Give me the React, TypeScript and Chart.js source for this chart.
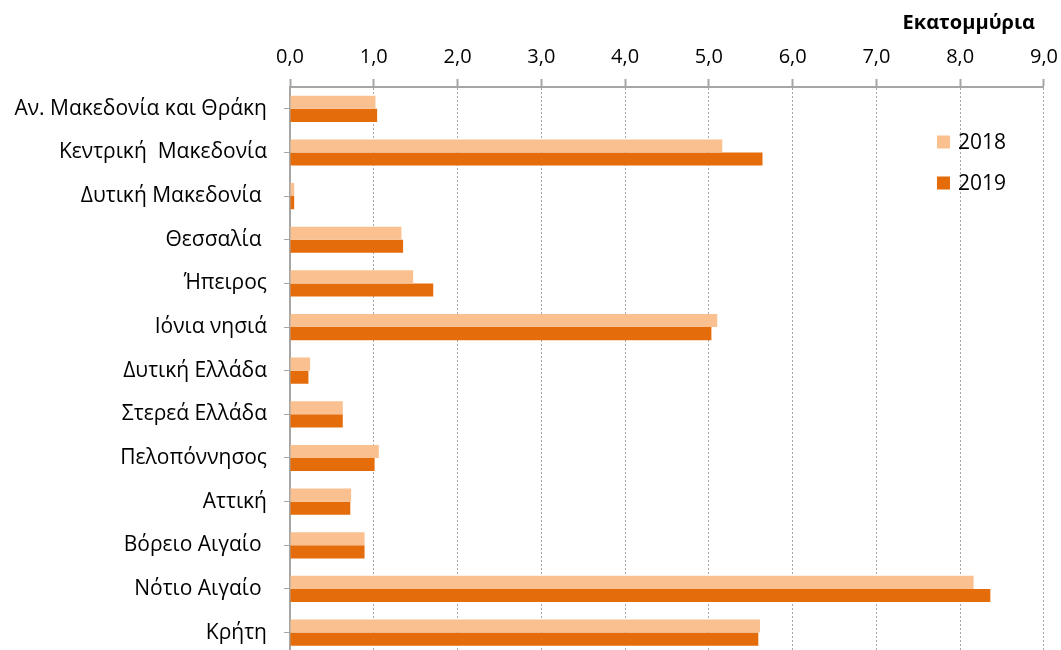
import React, { useEffect, useRef } from 'react';
import { Chart, registerables } from 'chart.js';

Chart.register(...registerables);

const FONT = '"Open Sans", "Noto Sans", sans-serif';

const categories = [
  'Αν. Μακεδονία και Θράκη',
  'Κεντρική  Μακεδονία',
  'Δυτική Μακεδονία ',
  'Θεσσαλία ',
  'Ήπειρος',
  'Ιόνια νησιά',
  'Δυτική Ελλάδα',
  'Στερεά Ελλάδα',
  'Πελοπόννησος',
  'Αττική',
  'Βόρειο Αιγαίο ',
  'Νότιο Αιγαίο ',
  'Κρήτη',
];

const values2018 = [1.02, 5.16, 0.05, 1.33, 1.47, 5.1, 0.24, 0.63, 1.06, 0.73, 0.89, 8.16, 5.61];
const values2019 = [1.04, 5.64, 0.05, 1.35, 1.71, 5.03, 0.22, 0.63, 1.01, 0.72, 0.89, 8.36, 5.59];

const seriesLabels = ['2018', '2019'];
const unitTitle = 'Εκατομμύρια';
const xMin = 0;
const xMax = 9;
const xStep = 1;

const COLOR_2018 = '#FAC090';
const COLOR_2019 = '#E46C0A';
const AXIS_GRAY = '#A6A6A6';

const overlayPlugin = {
  id: 'overlayLegendTitle',
  afterDraw(chart: any) {
    const { ctx, chartArea } = chart;
    ctx.save();
    chart.data.datasets.forEach((ds: any, i: number) => {
      const x = chartArea.right - 107;
      const y = 142 + i * 41;
      ctx.fillStyle = ds.backgroundColor;
      ctx.fillRect(x, y - 6.5, 13, 13);
      ctx.fillStyle = '#000';
      ctx.font = `21px ${FONT}`;
      ctx.textAlign = 'left';
      ctx.textBaseline = 'middle';
      ctx.fillText(ds.label, x + 21, y + 1);
    });
    ctx.font = `bold 20px ${FONT}`;
    ctx.textAlign = 'right';
    ctx.textBaseline = 'middle';
    ctx.fillStyle = '#000';
    ctx.fillText(unitTitle, chartArea.right - 9, 23);
    ctx.restore();
  },
};

export default function App() {
  const canvasRef = useRef<HTMLCanvasElement | null>(null);

  useEffect(() => {
    if (!canvasRef.current) return;
    const chart = new Chart(canvasRef.current, {
      type: 'bar',
      data: {
        labels: categories,
        datasets: [
          {
            label: seriesLabels[0],
            data: values2018,
            backgroundColor: COLOR_2018,
            borderWidth: 0,
            barPercentage: 1,
            categoryPercentage: 0.6,
          },
          {
            label: seriesLabels[1],
            data: values2019,
            backgroundColor: COLOR_2019,
            borderWidth: 0,
            barPercentage: 1,
            categoryPercentage: 0.6,
          },
        ],
      },
      options: {
        indexAxis: 'y',
        responsive: false,
        animation: false,
        layout: { padding: { top: 0, right: 0, bottom: 0, left: 0 } },
        plugins: {
          legend: { display: false },
          title: { display: false },
          tooltip: { enabled: false },
        },
        scales: {
          x: {
            position: 'top',
            min: xMin,
            max: xMax,
            ticks: {
              stepSize: xStep,
              color: '#000',
              font: { family: FONT, size: 20 },
              padding: 10,
              callback: (v: any) => Number(v).toFixed(1).replace('.', ','),
            },
            grid: {
              color: AXIS_GRAY,
              lineWidth: 1,
              tickLength: 8,
              tickColor: AXIS_GRAY,
              tickWidth: 2,
            },
            border: { display: true, color: AXIS_GRAY, width: 2, dash: [2, 2] },
            afterFit: (scale: any) => {
              scale.height = 87;
            },
          },
          y: {
            type: 'category',
            offset: true,
            ticks: {
              color: '#000',
              font: { family: FONT, size: 21 },
              padding: 17,
              autoSkip: false,
            },
            grid: {
              display: true,
              drawOnChartArea: false,
              offset: false,
              tickLength: 6,
              tickColor: AXIS_GRAY,
              tickWidth: 1,
            },
            border: { display: true, color: AXIS_GRAY, width: 2 },
            afterFit: (scale: any) => {
              scale.width = 290;
            },
          },
        },
      },
      plugins: [overlayPlugin],
    } as any);
    return () => chart.destroy();
  }, []);

  return (
    <div style={{ position: 'fixed', left: 0, top: 0, width: 1068, height: 684, background: '#fff' }}>
      <canvas ref={canvasRef} width={1068} height={684} style={{ display: 'block' }} />
    </div>
  );
}
